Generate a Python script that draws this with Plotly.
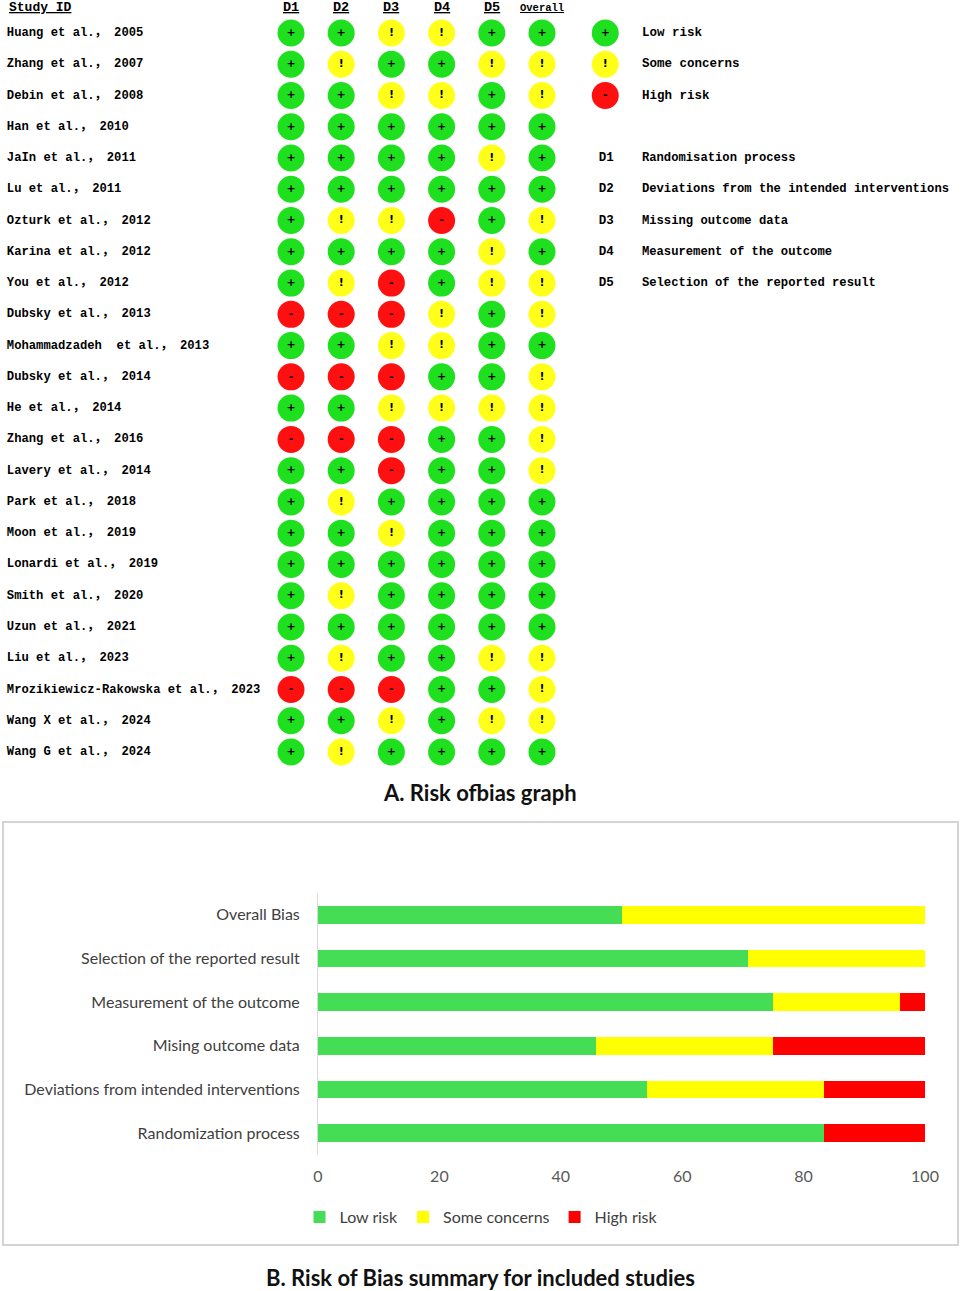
import plotly.graph_objects as go

# --- A. traffic-light data (24 studies x 5 domains + overall) ---
studies = [
    "Huang et al.， 2005", "Zhang et al.， 2007", "Debin et al.， 2008",
    "Han et al.， 2010", "JaIn et al.， 2011", "Lu et al.， 2011",
    "Ozturk et al.， 2012", "Karina et al.， 2012", "You et al.， 2012",
    "Dubsky et al.， 2013", "Mohammadzadeh  et al.， 2013", "Dubsky et al.， 2014",
    "He et al.， 2014", "Zhang et al.， 2016", "Lavery et al.， 2014",
    "Park et al.， 2018", "Moon et al.， 2019", "Lonardi et al.， 2019",
    "Smith et al.， 2020", "Uzun et al.， 2021", "Liu et al.， 2023",
    "Mrozikiewicz-Rakowska et al.， 2023", "Wang X et al.， 2024", "Wang G et al.， 2024",
]
d1 = ["+", "+", "+", "+", "+", "+", "+", "+", "+", "-", "+", "-",
      "+", "-", "+", "+", "+", "+", "+", "+", "+", "-", "+", "+"]
d2 = ["+", "!", "+", "+", "+", "+", "!", "+", "!", "-", "+", "-",
      "+", "-", "+", "!", "+", "+", "!", "+", "!", "-", "+", "!"]
d3 = ["!", "+", "!", "+", "+", "+", "!", "+", "-", "-", "!", "-",
      "!", "-", "-", "+", "!", "+", "+", "+", "+", "-", "!", "+"]
d4 = ["!", "+", "!", "+", "+", "+", "-", "+", "+", "!", "!", "+",
      "!", "+", "+", "+", "+", "+", "+", "+", "+", "+", "+", "+"]
d5 = ["+", "!", "+", "+", "!", "+", "+", "!", "!", "+", "+", "+",
      "!", "+", "+", "+", "+", "+", "+", "+", "!", "+", "!", "+"]
overall = ["+", "!", "!", "+", "+", "+", "!", "+", "!", "!", "+", "!",
           "!", "!", "!", "+", "+", "+", "+", "+", "!", "!", "!", "+"]
columns = ["D1", "D2", "D3", "D4", "D5", "Overall"]
judgements = [d1, d2, d3, d4, d5, overall]

legend_symbols = ["+", "!", "-"]
legend_names = ["Low risk", "Some concerns", "High risk"]
domain_codes = ["D1", "D2", "D3", "D4", "D5"]
domain_names = ["Randomisation process", "Deviations from the intended interventions",
                "Missing outcome data", "Measurement of the outcome",
                "Selection of the reported result"]

# --- B. summary bar data (percent of studies) ---
bar_domains = ["Randomization process", "Deviations from intended interventions",
               "Mising outcome data", "Measurement of the outcome",
               "Selection of the reported result", "Overall Bias"]
low_pct = [83.3, 54.2, 45.8, 75.0, 70.8, 50.0]
some_pct = [0.0, 29.2, 29.2, 20.8, 29.2, 50.0]
high_pct = [16.7, 16.7, 25.0, 4.2, 0.0, 0.0]

light_col = {"+": "#1fe01f", "!": "#ffff1a", "-": "#ff1010"}
mono = "Liberation Mono, Noto Sans CJK SC, monospace"
calibri = "Lato, Open Sans, sans-serif"
sym_font = dict(family="DejaVu Sans", size=11, color="black", weight="bold")

fig = go.Figure()

# traffic lights
for ci, col in enumerate(columns):
    vals = judgements[ci]
    fig.add_trace(go.Scatter(
        x=[ci] * len(vals), y=list(range(len(vals))),
        mode="markers+text", text=vals, textposition="middle center",
        textfont=sym_font,
        marker=dict(size=27, color=[light_col[v] for v in vals], line=dict(width=0)),
        showlegend=False, hoverinfo="skip", xaxis="x", yaxis="y"))

# study names
fig.add_trace(go.Scatter(
    x=[-5.66] * len(studies), y=list(range(len(studies))), mode="text",
    text=studies, textposition="middle right",
    textfont=dict(family=mono, size=12.2, color="black", weight="bold"),
    showlegend=False, hoverinfo="skip", xaxis="x", yaxis="y", cliponaxis=False))

# judgement key
fig.add_trace(go.Scatter(
    x=[6.26] * 3, y=list(range(3)), mode="markers+text", text=legend_symbols,
    textposition="middle center", textfont=sym_font,
    marker=dict(size=27, color=[light_col[s] for s in legend_symbols], line=dict(width=0)),
    showlegend=False, hoverinfo="skip", xaxis="x", yaxis="y"))
fig.add_trace(go.Scatter(
    x=[6.99] * 3, y=list(range(3)), mode="text",
    text=legend_names, textposition="middle right",
    textfont=dict(family=mono, size=12.5, color="black", weight="bold"),
    showlegend=False, hoverinfo="skip", xaxis="x", yaxis="y", cliponaxis=False))

# domain key
fig.add_trace(go.Scatter(
    x=[6.13] * 5, y=[r + 4 for r in range(5)], mode="text",
    text=domain_codes, textposition="middle right",
    textfont=dict(family=mono, size=12.5, color="black", weight="bold"),
    showlegend=False, hoverinfo="skip", xaxis="x", yaxis="y", cliponaxis=False))
fig.add_trace(go.Scatter(
    x=[6.99] * 5, y=[r + 4 for r in range(5)], mode="text",
    text=domain_names, textposition="middle right",
    textfont=dict(family=mono, size=12.2, color="black", weight="bold"),
    showlegend=False, hoverinfo="skip", xaxis="x", yaxis="y", cliponaxis=False))

# column headers
fig.add_annotation(x=-5.66, y=-0.8, xref="x", yref="y", xanchor="left",
                   text="<b><u>Study ID</u></b>", showarrow=False,
                   font=dict(family=mono, size=13, color="black"))
for ci, col in enumerate(columns):
    fig.add_annotation(x=ci, y=-0.8, xref="x", yref="y", text="<b><u>%s</u></b>" % col,
                       showarrow=False,
                       font=dict(family=mono, size=10.5 if col == "Overall" else 13.5, color="black"))

# summary bars
for name, vals, colr in [("Low risk", low_pct, "#44dd55"),
                         ("Some concerns", some_pct, "#ffff00"),
                         ("High risk", high_pct, "#ff0000")]:
    fig.add_trace(go.Bar(y=bar_domains, x=vals, name=name, orientation="h",
                         marker=dict(color=colr, line=dict(width=0)), width=0.4,
                         xaxis="x2", yaxis="y2"))

fig.add_annotation(x=0.499, y=1 - 792 / 1291, xref="paper", yref="paper",
                   xanchor="center", yanchor="middle",
                   text="<b>A. Risk ofbias graph</b>", showarrow=False,
                   font=dict(family=calibri, size=22, color="#111111"))
fig.add_annotation(x=0.499, y=1 - 1277 / 1291, xref="paper", yref="paper",
                   xanchor="center", yanchor="middle",
                   text="<b>B. Risk of Bias summary for included studies</b>", showarrow=False,
                   font=dict(family=calibri, size=22, color="#111111"))
fig.add_shape(type="rect", xref="paper", yref="paper",
              x0=3 / 962, x1=958 / 962, y0=1 - 1245 / 1291, y1=1 - 822 / 1291,
              line=dict(color="#d4d4d4", width=2), fillcolor="rgba(0,0,0,0)")

fig.update_layout(
    width=962, height=1291, margin=dict(l=0, r=0, t=0, b=0, autoexpand=False),
    paper_bgcolor="white", plot_bgcolor="rgba(0,0,0,0)",
    barmode="stack",
    xaxis=dict(domain=[0, 1], range=[-291 / 50.2, 671 / 50.2], visible=False, automargin=False),
    yaxis=dict(domain=[0, 1], range=[(1291 - 33) / 31.26, -33 / 31.26], visible=False,
               automargin=False),
    xaxis2=dict(domain=[318 / 962, 925 / 962], anchor="y2", range=[0, 100],
                tickvals=[0, 20, 40, 60, 80, 100], showgrid=False, zeroline=False,
                showline=False, ticks="", ticklabelstandoff=10, automargin=False,
                tickfont=dict(family=calibri, size=16, color="#595959")),
    yaxis2=dict(domain=[1 - 1155 / 1291, 1 - 893 / 1291], anchor="x2",
                showgrid=False, showline=True, linecolor="#d9d9d9", linewidth=1,
                ticks="", ticklabelstandoff=14, automargin=False,
                tickfont=dict(family=calibri, size=16, color="#404040")),
    legend=dict(orientation="h", x=0.5, xanchor="center", y=1 - 1217 / 1291, yanchor="middle",
                font=dict(family=calibri, size=16, color="#404040"),
                itemwidth=30, tracegroupgap=0, traceorder="normal"),
)

fig.write_html("out.html", config={"displayModeBar": False},
               post_script="document.body.style.margin='0';")
